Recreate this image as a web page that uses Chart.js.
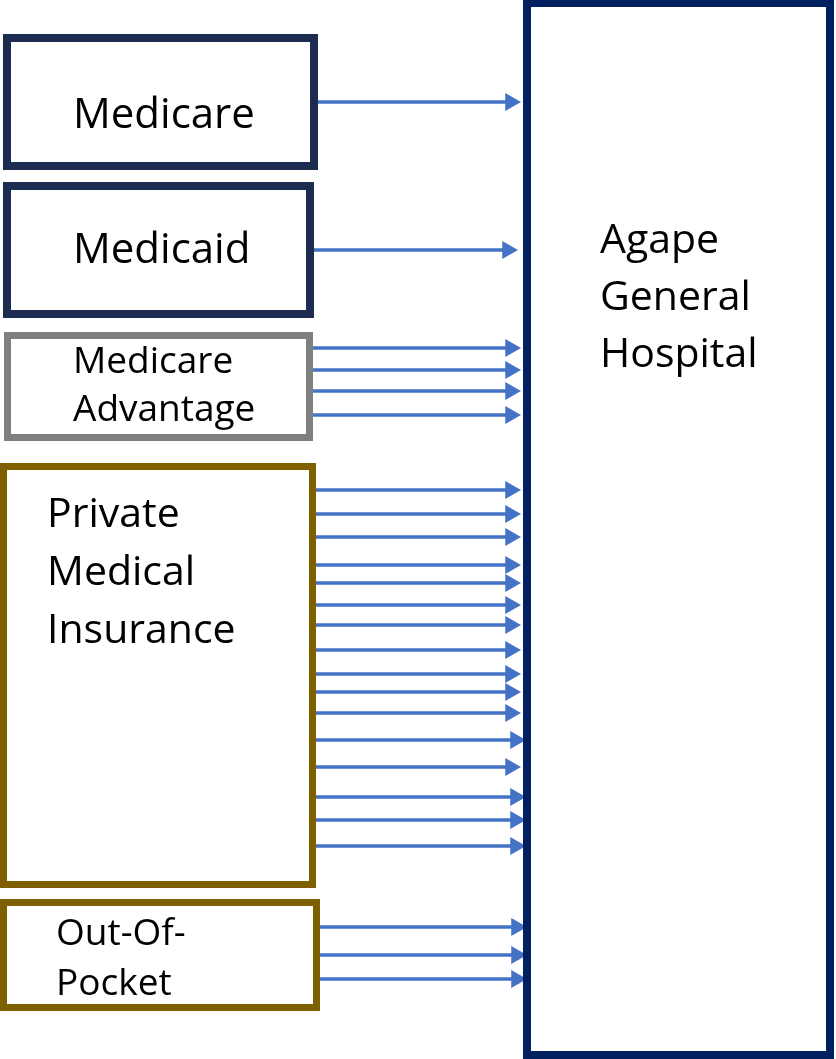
<!DOCTYPE html>
<html>
<head>
<meta charset="utf-8">
<script src="https://cdn.jsdelivr.net/npm/chart.js@4"></script>
<style>
  html, body { margin: 0; padding: 0; background: #fff; }
  #wrap { width: 836px; height: 1059px; position: relative; }
</style>
</head>
<body>
<div id="wrap"><canvas id="flow"></canvas></div>
<script>
// payers (left boxes) and the hospital they feed
var payers = ["Medicare", "Medicaid", "Medicare Advantage", "Private Medical Insurance", "Out-Of-Pocket"];
var payerLines = [["Medicare"], ["Medicaid"], ["Medicare", "Advantage"], ["Private", "Medical", "Insurance"], ["Out-Of-", "Pocket"]];
var hospitalLines = ["Agape", "General", "Hospital"];

// arrows leaving each payer box (y of each arrow)
var medicareArrows = [102];
var medicaidArrows = [250];
var advantageArrows = [348, 370, 391, 415];
var privateArrows = [490, 514, 537, 565, 583, 605, 625, 650, 674, 692, 713, 740, 767, 797, 820, 846];
var pocketArrows = [927, 955, 979];
var arrowGroups = [medicareArrows, medicaidArrows, advantageArrows, privateArrows, pocketArrows];

// ---- layout (pixels in an 836 x 1059 frame) ----
var boxL = [7, 7, 7.5, 3.5, 3.5];
var boxR = [314, 310, 309.5, 312.5, 316.5];
var boxT = [38, 186, 335.5, 466.5, 902.5];
var boxB = [166, 314, 437.5, 884.5, 1007.5];
var boxW = [8, 8, 7, 7, 7];
var boxColor = ["#1b2c50", "#1b2c50", "#7f7f7f", "#7f6000", "#7f6000"];
var hosp = { l: 527, r: 830, t: 3, b: 1055, w: 8, color: "#002060" };

var textX = [73, 73, 73, 47, 56];
var textY = [[128], [263], [373, 421], [527, 585, 643], [945, 995]];
var textSize = [42, 42, 37, 41, 37];
var hospText = { x: 600, y: [253, 310, 367], size: 41 };

var arrowColor = "#4472c4";
var headR = 10.5;

function tipFor(g, y){
  if(g == 1) return 518;
  if(g == 4) return 527;
  if(g == 3 && (y == 740 || y >= 797)) return 526;
  return 521;
}

var datasets = [];

// boxes
for(var i = 0; i < payers.length; i++){
  datasets.push({
    label: payers[i],
    data: [{x: boxL[i], y: boxT[i]}, {x: boxR[i], y: boxT[i]}, {x: boxR[i], y: boxB[i]}, {x: boxL[i], y: boxB[i]}, {x: boxL[i], y: boxT[i]}],
    borderColor: boxColor[i],
    borderWidth: boxW[i],
    borderJoinStyle: "miter",
    borderCapStyle: "square",
    pointRadius: 0,
    fill: false,
    tension: 0
  });
}
datasets.push({
  label: "Agape General Hospital",
  data: [{x: hosp.l, y: hosp.t}, {x: hosp.r, y: hosp.t}, {x: hosp.r, y: hosp.b}, {x: hosp.l, y: hosp.b}, {x: hosp.l, y: hosp.t}],
  borderColor: hosp.color,
  borderWidth: hosp.w,
  borderJoinStyle: "miter",
  borderCapStyle: "square",
  pointRadius: 0,
  fill: false
});

// arrows
for(var g = 0; g < arrowGroups.length; g++){
  for(var k = 0; k < arrowGroups[g].length; k++){
    var y = arrowGroups[g][k];
    var start = boxR[g] + boxW[g] / 2;
    datasets.push({
      label: payers[g] + " payment",
      data: [{x: start, y: y}, {x: tipFor(g, y) - headR, y: y}],
      borderColor: arrowColor,
      backgroundColor: arrowColor,
      borderWidth: 3.5,
      borderCapStyle: "butt",
      pointStyle: "triangle",
      pointRotation: 90,
      pointRadius: [0, headR],
      pointHoverRadius: 0,
      pointBorderWidth: 0,
      fill: false
    });
  }
}

var labelPlugin = {
  id: "boxLabels",
  afterDatasetsDraw: function(chart){
    var ctx = chart.ctx;
    var xs = chart.scales.x, ys = chart.scales.y;
    ctx.save();
    ctx.fillStyle = "#000";
    ctx.textAlign = "left";
    ctx.textBaseline = "alphabetic";
    for(var i = 0; i < payerLines.length; i++){
      ctx.font = textSize[i] + "px 'Open Sans', sans-serif";
      for(var j = 0; j < payerLines[i].length; j++){
        ctx.fillText(payerLines[i][j], xs.getPixelForValue(textX[i]), ys.getPixelForValue(textY[i][j]));
      }
    }
    ctx.font = hospText.size + "px 'Open Sans', sans-serif";
    for(var j = 0; j < hospitalLines.length; j++){
      ctx.fillText(hospitalLines[j], xs.getPixelForValue(hospText.x), ys.getPixelForValue(hospText.y[j]));
    }
    ctx.restore();
  }
};

var chart = new Chart(document.getElementById("flow").getContext("2d"), {
  type: "scatter",
  data: { datasets: datasets },
  options: {
    responsive: true,
    maintainAspectRatio: false,
    animation: false,
    showLine: true,
    clip: false,
    layout: { padding: 0, autoPadding: false },
    plugins: { legend: { display: false }, tooltip: { enabled: false } },
    scales: {
      x: { type: "linear", min: 0, max: 836, display: false },
      y: { type: "linear", min: 0, max: 1059, reverse: true, display: false }
    }
  },
  plugins: [labelPlugin]
});
</script>
</body>
</html>
